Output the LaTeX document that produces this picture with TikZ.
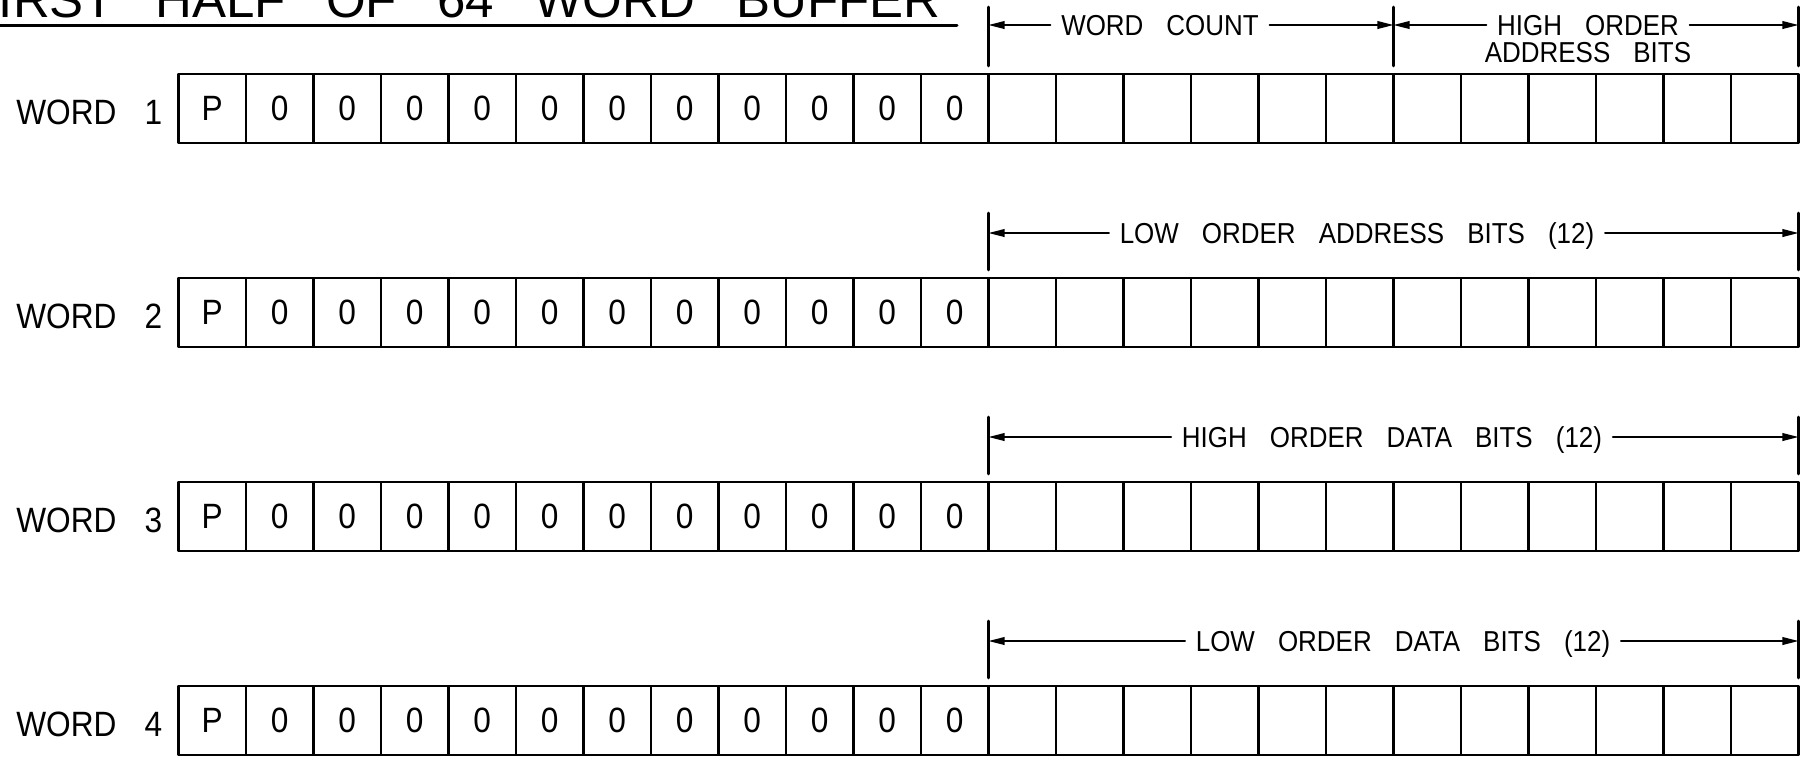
\documentclass[tikz,border=0pt]{standalone}
\usepackage{fontspec}
\usetikzlibrary{arrows.meta,positioning}
\newfontfamily\plotfont[FakeStretch=0.9,WordSpace=3.2]{Liberation Sans}
\newfontfamily\titlefont[WordSpace=2.85]{Liberation Sans}

\tikzset{
 bitcell/.style={draw,line width=0.8pt,minimum width=0.675cm,minimum height=0.69cm,
  inner sep=0pt,font=\plotfont\fontsize{10}{12}\selectfont},
 wordlab/.style={anchor=base east,inner sep=0pt,font=\plotfont\fontsize{10}{12}\selectfont},
 dimtext/.style={inner xsep=0.1cm,inner ysep=0pt,text height=5.9pt,text depth=0pt,
  font=\plotfont\fontsize{8.2}{10}\selectfont},
 dimline/.style={-{Triangle[length=4.6pt,width=2.2pt]},line width=0.45pt},
 tickline/.style={line width=0.75pt},
}

\begin{document}
\begin{tikzpicture}[x=0.01cm,y=-0.01cm,line cap=round,line join=round]
 \useasboundingbox (0,0) rectangle (1805,756);
 \clip (0,0) rectangle (1805,756);
 % title (cut at the page edge)
 \node[anchor=base west,inner sep=0pt,font=\titlefont\fontsize{14.5}{17}\selectfont]
  (title) at (-33,17) {FIRST HALF OF 64 WORD BUFFER};
 \coordinate (ulL) at (0,25);
 \coordinate (ulR) at (957,25);
 \draw[line width=0.85pt] (ulL) -- (ulR);

 % the four words, 24 bits each
 \foreach \r in {1,...,4}{
  \pgfmathsetmacro{\rowtop}{74+204*(\r-1)}
  \node[wordlab] (lab\r) at (163,\rowtop+50) {WORD \r};
  \foreach \c in {1,...,24}{
   \pgfmathsetmacro{\cx}{178.5+67.5*(\c-0.5)}
   \node[bitcell] (w\r-\c) at (\cx,\rowtop+34.5)
    {\ifnum\c=1 P\else\ifnum\c<13 0\fi\fi};
  }
 }

 % word 1 fields
 \coordinate (d1-a) at (988.5,25);
 \coordinate (d1-b) at (1393.5,25);
 \coordinate (d1-c) at (1798.5,25);
 \node[dimtext] (wcount) at (1160,25) {WORD COUNT};
 \node[dimtext] (hiaddr) at (1588,25) {HIGH ORDER};
 \node[dimtext,below=0.045cm of hiaddr] (hiaddr2) {ADDRESS BITS};
 \draw[dimline] (wcount.west) -- (d1-a);
 \draw[dimline] (wcount.east) -- (d1-b);
 \draw[dimline] (hiaddr.west) -- (d1-b);
 \draw[dimline] (hiaddr.east) -- (d1-c);
 \foreach \p in {d1-a,d1-b,d1-c}
  \draw[tickline] (\p) ++(0,-18) -- ++(0,59);

 % words 2-4
 \foreach \r/\mx/\txt in {2/1357/LOW ORDER ADDRESS BITS (12),
   3/1392/HIGH ORDER DATA BITS (12),4/1403/LOW ORDER DATA BITS (12)}{
  \pgfmathsetmacro{\ay}{74+204*(\r-1)-45}
  \coordinate (d\r-a) at (988.5,\ay);
  \coordinate (d\r-c) at (1798.5,\ay);
  \node[dimtext] (dim\r) at (\mx,\ay) {\txt};
  \draw[dimline] (dim\r.west) -- (d\r-a);
  \draw[dimline] (dim\r.east) -- (d\r-c);
  \draw[tickline] (d\r-a) ++(0,-20) -- ++(0,57);
  \draw[tickline] (d\r-c) ++(0,-20) -- ++(0,57);
 }
\end{tikzpicture}
\end{document}
